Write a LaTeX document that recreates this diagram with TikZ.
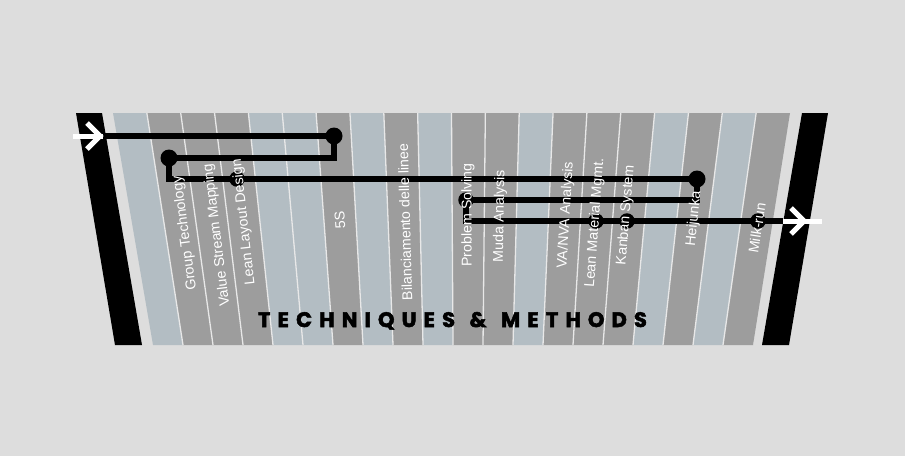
\documentclass[tikz,border=0pt]{standalone}
\usepackage{fontspec}
\setmainfont{Liberation Sans}
\newfontfamily\titlefont[LetterSpace=34]{Poppins}
\usetikzlibrary{calc}
\definecolor{bg}{HTML}{DDDDDD}
\definecolor{stripblue}{HTML}{B3BDC3}
\definecolor{stripgrey}{HTML}{9D9D9D}
\definecolor{seam}{HTML}{E8E8E8}
\newcommand{\boldon}{\special{pdf:literal direct 2 Tr 0.5 w 0 0 0 RG}}
\newcommand{\boldoff}{\special{pdf:literal direct 0 Tr}}
\tikzset{
  metro/.style={line width=5.5pt, black, line cap=butt, line join=miter},
  station/.style={circle, fill=black, inner sep=0pt, minimum size=15.5pt},
  bigstation/.style={station, minimum size=17pt},
  lbl/.style={text=white, font=\fontsize{14.2}{14.2}\selectfont, inner sep=0pt},
  ttl/.style={font=\titlefont\bfseries\fontsize{21}{21}\selectfont, inner sep=0pt, anchor=base},
  arrowmark/.style={white, line width=5pt, line cap=butt, line join=miter}
}
\begin{document}
\begin{tikzpicture}[x=1pt,y=-1pt]
\fill[bg] (0,0) rectangle (905,456);
\useasboundingbox (0,0) rectangle (905,456);
% strips
\foreach \c [count=\k from 0] in {stripblue,stripgrey,stripgrey,stripgrey,stripblue,stripblue,stripgrey,stripblue,stripgrey,stripblue,stripgrey,stripgrey,stripblue,stripgrey,stripgrey,stripgrey,stripblue,stripgrey,stripblue,stripgrey}{
  \fill[\c] ({113+33.85*\k},113) -- ({113+33.85*(\k+1)},113) -- ({153+30*(\k+1)},345) -- ({153+30*\k},345) -- cycle;
}
\foreach \k in {1,...,19}{
  \draw[seam, line width=1.3pt] ({113+33.85*\k},113) -- ({153+30*\k},345);
}
% black bars
\fill[black] (76,113) -- (102,113) -- (142,345) -- (115,345) -- cycle;
\fill[black] (802,113) -- (828,113) -- (789,345) -- (762,345) -- cycle;
% stations
\coordinate (inL) at (103,136);
\coordinate (outR) at (783,221);
\node[bigstation] (st1) at (334,136) {};
\node[bigstation] (st2) at (169,158) {};
\node[station] (st3) at (237,179) {};
\node[bigstation] (st4) at (697,179) {};
\node[station] (st5) at (466,200) {};
\node[station] (st6) at (596,221) {};
\node[station] (st7) at (627,221) {};
\node[station] (st8) at (758,221) {};
% line
\draw[metro] (inL) -- (st1.center) |- (st2.center) |- (st4.center) |- (st5.center) |- (outR);
% arrows
\coordinate (tailL) at (73,136);
\draw[arrowmark] (tailL) -- (inL);
\draw[arrowmark] (87,123) -- (100,136) -- (87,149);
\coordinate (headR) at (822,221);
\draw[arrowmark] (outR) -- (headR);
\draw[arrowmark] (791,208) -- (804,221) -- (791,234);
% labels
\node[lbl, rotate=97.5] (lGT) at (185,233) {Group Technology};
\node[lbl, rotate=97] (lVSM) at (217,235) {Value Stream Mapping};
\node[lbl, rotate=96.3] (lLLD) at (244,222) {Lean Layout Design};
\node[lbl, rotate=93.7] (l5S) at (340,220) {5S};
\node[lbl, rotate=91.6] (lBIL) at (405,222) {Bilanciamento delle linee};
\node[lbl, rotate=90] (lPS) at (468,215) {Problem Solving};
\node[lbl, rotate=89] (lMUDA) at (500,216) {Muda Analysis};
\node[lbl, rotate=86.5] (lVA) at (566,215) {VA/NVA Analysis};
\node[lbl, rotate=85.8] (lLMM) at (595,223) {Lean Material Mgmt.};
\node[lbl, rotate=85.2] (lKAN) at (626,215) {Kanban System};
\node[lbl, rotate=84] (lHEI) at (694,219) {Heijunka};
\node[lbl, rotate=81] (lMILK) at (757,228) {Milk-run};
% title
\node[ttl, text=black] (title) at (452.5,327) {\boldon TECHNIQUES\hspace{3pt} \&\hspace{3pt} METHODS\boldoff};
\end{tikzpicture}
\end{document}
